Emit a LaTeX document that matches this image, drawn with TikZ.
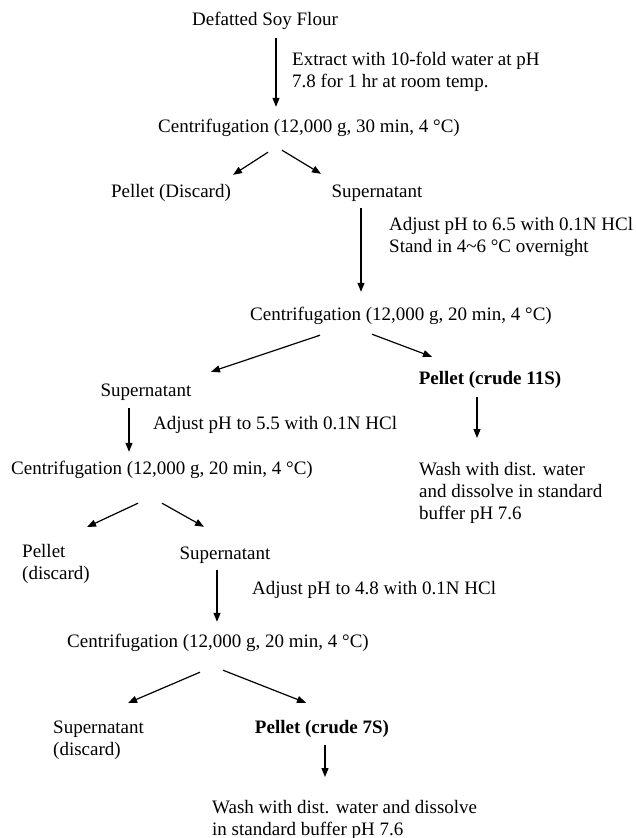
\documentclass[tikz,border=0pt]{standalone}
\usepackage{fontspec}
\setmainfont{Liberation Serif}
\usetikzlibrary{arrows.meta}

\tikzset{
		txt/.style={inner sep=0pt, font=\fontsize{19pt}{22pt}\selectfont, text height=13pt, text depth=4pt},
		para/.style={inner sep=0pt, font=\fontsize{19pt}{22pt}\selectfont, align=left, anchor=north west},
		bold/.style={txt, font=\fontsize{19pt}{22pt}\selectfont\bfseries},
		arrow/.style={-{Triangle[length=9pt,width=7pt]}, line width=1.2pt}
	}

\begin{document}
\begin{tikzpicture}[x=1pt,y=-1pt]
\useasboundingbox (0,0) rectangle (636,838);

\node (defat) at (265,21) [txt] {Defatted Soy Flour};
\node (extract) at (292,52) [para] {Extract with 10-fold water at pH\\7.8 for 1 hr at room temp.};
\node (c1) at (309,128) [txt] {Centrifugation (12,000 g, 30 min, 4 °C)};

\node (pd1) at (171,193) [txt] {Pellet (Discard)};
\node (sup1) at (377,193) [txt] {Supernatant};
\node (adj1) at (389,217) [para] {Adjust pH to 6.5 with 0.1N HCl\\Stand in 4\textasciitilde 6 °C overnight};

\node (c2) at (401,316) [txt] {Centrifugation (12,000 g, 20 min, 4 °C)};
\node (sup2) at (146,392) [txt] {Supernatant};
\node (p11) at (490,380) [bold] {Pellet (crude 11S)};
\node (adj2) at (153,425) [txt, anchor=west] {Adjust pH to 5.5 with 0.1N HCl};
\node (wash1) at (419,462) [para] {Wash with dist. water\\and dissolve in standard\\buffer pH 7.6};

\node (c3) at (162,470) [txt] {Centrifugation (12,000 g, 20 min, 4 °C)};
\node (pd2) at (22,544) [para] {Pellet\\(discard)};
\node (sup3) at (225,555) [txt] {Supernatant};
\node (adj3) at (252,590) [txt, anchor=west] {Adjust pH to 4.8 with 0.1N HCl};

\node (c4) at (218,643) [txt] {Centrifugation (12,000 g, 20 min, 4 °C)};
\node (sd) at (53,721) [para] {Supernatant\\(discard)};
\node (p7) at (322,729) [bold] {Pellet (crude 7S)};
\node (wash2) at (212,800) [para] {Wash with dist. water and dissolve\\in standard buffer pH 7.6};


\draw [arrow] ([xshift=11pt,yshift=-8.5pt]defat.south) to ([xshift=-33pt,yshift=12.5pt]c1.north);
\draw [arrow] ([xshift=-41pt,yshift=-15.5pt]c1.south) to ([xshift=62pt,yshift=9.5pt]pd1.north);
\draw [arrow] ([xshift=-27pt,yshift=-13.5pt]c1.south) to ([xshift=-56pt,yshift=10.5pt]sup1.north);
\draw [arrow] ([xshift=-16pt,yshift=-6.5pt]sup1.south) to ([xshift=-40pt,yshift=15.5pt]c2.north);

\draw [arrow] ([xshift=-81pt,yshift=-10.5pt]c2.south) to ([xshift=65pt,yshift=11.5pt]sup2.north);
\draw [arrow] ([xshift=-29pt,yshift=-9.5pt]c2.south) to ([xshift=-58pt,yshift=14.5pt]p11.north);
\draw [arrow] ([xshift=-17pt,yshift=-7.5pt]sup2.south) to ([xshift=-33pt,yshift=9.5pt]c3.north);
\draw [arrow] ([xshift=-13pt,yshift=-8.5pt]p11.south) to ([xshift=58pt,yshift=24pt]wash1.north west);

\draw [arrow] ([xshift=-24pt,yshift=-24.5pt]c3.south) to ([xshift=65pt,yshift=17pt]pd2.north west);
\draw [arrow] ([yshift=-24.5pt]c3.south) to ([xshift=-21pt,yshift=19.5pt]sup3.north);
\draw [arrow] ([xshift=-8pt,yshift=-6.5pt]sup3.south) to ([xshift=-1pt,yshift=12.5pt]c4.north);

\draw [arrow] ([xshift=-18pt,yshift=-20.5pt]c4.south) to ([xshift=75pt,yshift=18pt]sd.north west);
\draw [arrow] ([xshift=5pt,yshift=-18.5pt]c4.south) to ([xshift=-16pt,yshift=17.5pt]p7.north);
\draw [arrow] ([xshift=3pt,yshift=-7.5pt]p7.south) to ([xshift=113pt,yshift=23pt]wash2.north west);

\end{tikzpicture}
\end{document}
